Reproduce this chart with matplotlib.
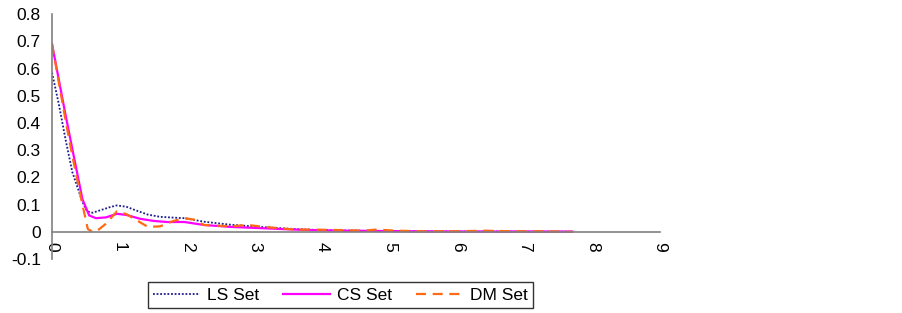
import numpy as np
import matplotlib.pyplot as plt

plt.rcParams['font.family'] = ['Liberation Sans', 'DejaVu Sans']

# values
ls_x = [0.0, 0.1, 0.2, 0.3, 0.45, 0.52, 0.6, 0.7, 0.85, 0.96, 1.1, 1.25, 1.42, 1.6, 1.8, 1.96, 2.25, 2.64, 3.13, 3.6, 3.9, 4.3, 4.8, 5.3, 6.0, 6.8, 7.7]
ls_y = [0.585, 0.47, 0.34, 0.22, 0.11, 0.075, 0.07, 0.078, 0.09, 0.097, 0.092, 0.078, 0.063, 0.055, 0.052, 0.05, 0.037, 0.026, 0.017, 0.01, 0.007, 0.005, 0.003, 0.002, 0.001, 0.001, 0.0]

cs_x = [0.0, 0.1, 0.2, 0.28, 0.45, 0.55, 0.65, 0.8, 0.96, 1.1, 1.3, 1.5, 1.7, 1.96, 2.25, 2.64, 3.13, 3.6, 3.9, 4.3, 4.8, 5.3, 6.0, 6.8, 7.7]
cs_y = [0.69, 0.56, 0.43, 0.33, 0.12, 0.06, 0.05, 0.053, 0.066, 0.062, 0.048, 0.04, 0.036, 0.036, 0.025, 0.018, 0.013, 0.008, 0.006, 0.004, 0.003, 0.002, 0.001, 0.001, 0.001]

dm_x = [0.0, 0.1, 0.2, 0.3, 0.45, 0.53, 0.6, 0.66, 0.8, 0.96, 1.1, 1.2, 1.42, 1.6, 1.8, 1.96, 2.1, 2.25, 2.64, 2.9, 3.13, 3.6, 3.9, 4.3, 4.6, 4.8, 5.1, 5.5, 6.0, 6.4, 6.8, 7.2, 7.7]
dm_y = [0.69, 0.55, 0.41, 0.28, 0.1, 0.01, 0.0, 0.002, 0.03, 0.075, 0.065, 0.05, 0.018, 0.02, 0.04, 0.05, 0.045, 0.025, 0.02, 0.025, 0.018, 0.008, 0.008, 0.006, 0.004, 0.008, 0.004, 0.002, 0.002, 0.004, 0.002, 0.002, 0.0]

x_ticks = list(range(0, 10))
y_ticks = [-0.1, 0, 0.1, 0.2, 0.3, 0.4, 0.5, 0.6, 0.7, 0.8]
y_labels = ['-0.1', '0', '0.1', '0.2', '0.3', '0.4', '0.5', '0.6', '0.7', '0.8']

fig = plt.figure(figsize=(9.03, 3.13), dpi=100)
ax = fig.add_axes([0.0576, 0.1725, 0.6734, 0.7825])

ax.plot(ls_x, ls_y, color='#1a1a8c', linestyle=(0, (1, 1)), linewidth=1.3, label='LS Set')
ax.plot(cs_x, cs_y, color='#ff00ff', linestyle='-', linewidth=1.6, label='CS Set')
ax.plot(dm_x, dm_y, color='#ff6a13', linestyle=(0, (4.5, 3)), linewidth=1.6, label='DM Set')

ax.set_xlim(0, 9)
ax.set_ylim(-0.1, 0.8)
ax.set_xticks(x_ticks)
ax.set_xticklabels([str(t) for t in x_ticks])
ax.set_yticks(y_ticks)
ax.set_yticklabels(y_labels)

ax.spines['top'].set_visible(False)
ax.spines['right'].set_visible(False)
ax.spines['bottom'].set_position(('data', 0))
for s in ('left', 'bottom'):
    ax.spines[s].set_color('#808080')
    ax.spines[s].set_linewidth(1.2)
ax.tick_params(axis='both', length=0, labelsize=12.5, colors='black')
ax.tick_params(axis='x', pad=7, labelrotation=-90)
ax.tick_params(axis='y', pad=8)

leg = fig.legend(loc='center', bbox_to_anchor=(0.377, 0.0575), ncol=3, frameon=True,
                 fancybox=False, edgecolor='black', fontsize=12.5, handlelength=2.7,
                 columnspacing=1.4, handletextpad=0.4, borderpad=0.3, borderaxespad=0)
leg.get_frame().set_linewidth(1.0)

fig.savefig('out.png', dpi=100)
